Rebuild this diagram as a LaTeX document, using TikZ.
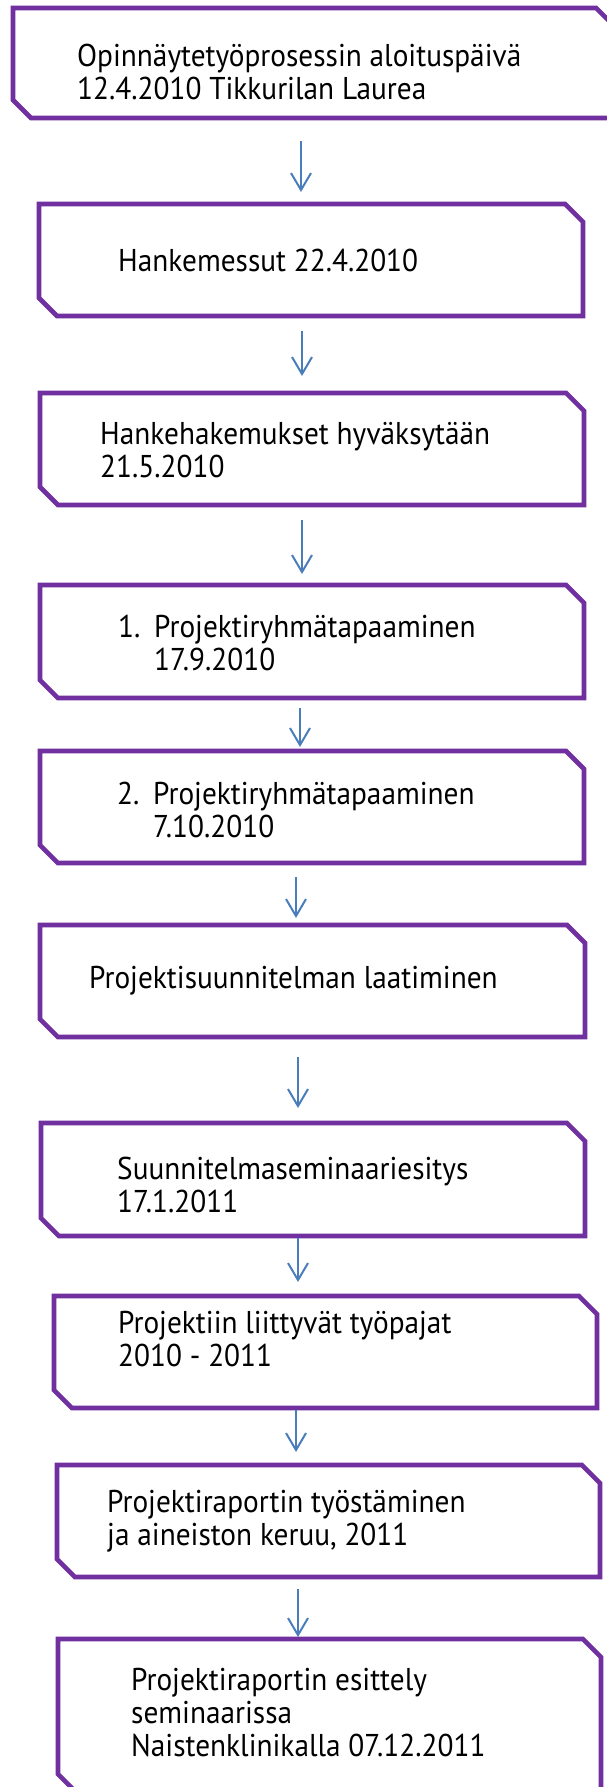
\documentclass[tikz,border=0pt]{standalone}
\usepackage{fontspec}
\setmainfont{PT Sans}[FakeStretch=0.93]
\usetikzlibrary{arrows.meta}
\definecolor{boxpurple}{HTML}{7030A0}
\definecolor{arrowblue}{HTML}{4A7EBB}
\newcommand\snipbox[5]{%
  \node[frame, minimum width={#4-#2}, minimum height={#5-#3}] (#1) at ({(#2+#4)/2},{(#3+#5)/2}) {};
  \draw[boxline] (#1.north west) -- ([xshift=-18pt]#1.north east) -- ([yshift=-18pt]#1.north east)
    -- (#1.south east) -- ([xshift=18pt]#1.south west) -- ([yshift=18pt]#1.south west) -- cycle;}
\begin{document}
\begin{tikzpicture}[x=1pt,y=-1pt,
  boxline/.style={draw=boxpurple, line width=4.6pt, line join=miter},
  frame/.style={inner sep=0pt, outer sep=0pt, draw=none},
  label/.style={anchor=base west, inner sep=0pt, font=\fontsize{31.5}{33}\selectfont},
  arr/.style={draw=arrowblue, line width=2pt, -{Straight Barb[length=17pt,width=20pt,line width=2pt]}}]
\useasboundingbox (0,0) rectangle (606,1787);
\fill[white] (0,0) rectangle (606,1787);

\snipbox{b1}{13}{8}{614}{118}
\snipbox{b2}{39}{204}{583}{316}
\snipbox{b3}{40}{393}{584}{505}
\snipbox{b4}{40}{585}{584}{698}
\snipbox{b5}{40}{751}{584}{863}
\snipbox{b6}{40}{925}{585}{1037}
\snipbox{b7}{41}{1123}{585}{1236}
\snipbox{b8}{54}{1296}{597}{1408}
\snipbox{b9}{57}{1465}{600}{1577}
\snipbox{b10}{58}{1639}{601}{1792}

\node[label] (t1) at (77,67) {\vtop{\hbox{Opinnäytetyöprosessin aloituspäivä}\hbox{12.4.2010 Tikkurilan Laurea}}};
\node[label] (t2) at (118,272) {Hankemessut 22.4.2010};
\node[label] (t3) at (100,444) {\vtop{\hbox{Hankehakemukset hyväksytään}\hbox{21.5.2010}}};
\node[label] (t4) at (118,637) {\vtop{\hbox{\makebox[36pt][l]{1.}Projektiryhmätapaaminen}\hbox{\hspace{36pt}17.9.2010}}};
\node[label] (t5) at (117,804) {\vtop{\hbox{\makebox[36pt][l]{2.}Projektiryhmätapaaminen}\hbox{\hspace{36pt}7.10.2010}}};
\node[label] (t6) at (89,988) {Projektisuunnitelman laatiminen};
\node[label] (t7) at (117,1179) {\vtop{\hbox{Suunnitelmaseminaariesitys}\hbox{17.1.2011}}};
\node[label] (t8) at (118,1333) {\vtop{\hbox{Projektiin liittyvät työpajat}\hbox{2010 - 2011}}};
\node[label] (t9) at (107,1512) {\vtop{\hbox{Projektiraportin työstäminen}\hbox{ja aineiston keruu, 2011}}};
\node[label] (t10) at (131,1690) {\vtop{\hbox{Projektiraportin esittely}\hbox{seminaarissa}\hbox{Naistenklinikalla 07.12.2011}}};

\coordinate (a1s) at (301,141);  \coordinate (a1e) at (301,192);
\coordinate (a2s) at (302,331);  \coordinate (a2e) at (302,376);
\coordinate (a3s) at (302,520);  \coordinate (a3e) at (302,574);
\coordinate (a4s) at (300,708);  \coordinate (a4e) at (300,747);
\coordinate (a5s) at (296,877);  \coordinate (a5e) at (296,918);
\coordinate (a6s) at (298,1057); \coordinate (a6e) at (298,1108);
\coordinate (a7s) at (298,1238); \coordinate (a7e) at (298,1282);
\coordinate (a8s) at (296,1410); \coordinate (a8e) at (296,1452);
\coordinate (a9s) at (298,1589); \coordinate (a9e) at (298,1637);
\foreach \i in {1,...,9} {\draw[arr] (a\i s) -- (a\i e);}
\end{tikzpicture}
\end{document}
